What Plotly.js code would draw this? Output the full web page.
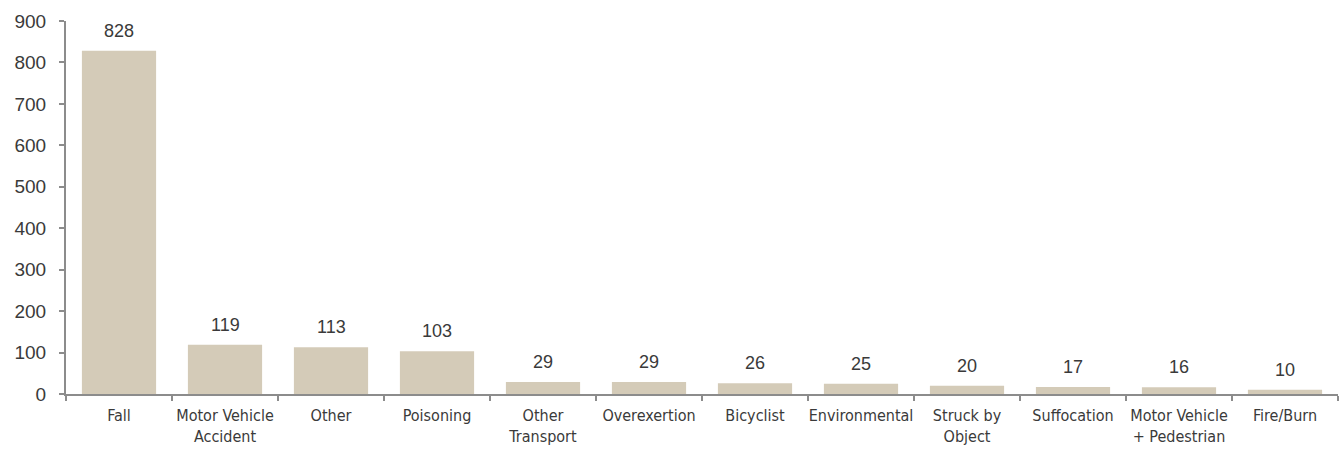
<!DOCTYPE html>
<html><head><meta charset="utf-8">
<script src="https://cdn.plot.ly/plotly-3.0.1.min.js"></script>
<style>body{margin:0;background:#fff}#chart{width:1340px;height:449px}</style>
</head><body><div id="chart"></div>
<script>
const categories = ["Fall","Motor Vehicle<br>Accident","Other","Poisoning","Other<br>Transport","Overexertion","Bicyclist","Environmental","Struck by<br>Object","Suffocation","Motor Vehicle<br>+ Pedestrian","Fire/Burn"];
const values = [828,119,113,103,29,29,26,25,20,17,16,10];
const yTicks = [0,100,200,300,400,500,600,700,800,900];

const labels = categories.map((c, i) => ({
  x: c, y: values[i], text: String(values[i]),
  xref: 'x', yref: 'y', yanchor: 'bottom', showarrow: false, yshift: 8,
  font: {family: 'Liberation Sans, Arial, sans-serif', size: 18, color: '#3a3a3a'}
}));

Plotly.newPlot('chart', [{
  type: 'bar',
  x: categories,
  y: values,
  marker: {color: '#d4cbb8'},
  hoverinfo: 'none'
}], {
  width: 1340, height: 449,
  margin: {l: 66, r: 2, t: 21, b: 55},
  bargap: 0.3,
  showlegend: false,
  paper_bgcolor: '#fff', plot_bgcolor: '#fff',
  annotations: labels,
  xaxis: {
    tickson: 'boundaries', ticks: 'outside', ticklen: 5, tickcolor: '#8c8c8c', tickwidth: 2,
    showline: true, linecolor: '#8c8c8c', linewidth: 2, showgrid: false,
    ticklabelstandoff: 6,
    tickfont: {family: 'DejaVu Sans Condensed, Liberation Sans Narrow, sans-serif', size: 16, color: '#3a3a3a'},
    tickangle: 0
  },
  yaxis: {
    range: [0, 900], tickvals: yTicks, ticks: 'outside', ticklen: 5, tickcolor: '#8c8c8c', tickwidth: 2,
    showline: true, linecolor: '#8c8c8c', linewidth: 2, showgrid: false, zeroline: false,
    ticklabelstandoff: 9,
    tickfont: {family: 'Liberation Sans, Arial, sans-serif', size: 19, color: '#3a3a3a'}
  }
}, {staticPlot: true});
</script></body></html>
